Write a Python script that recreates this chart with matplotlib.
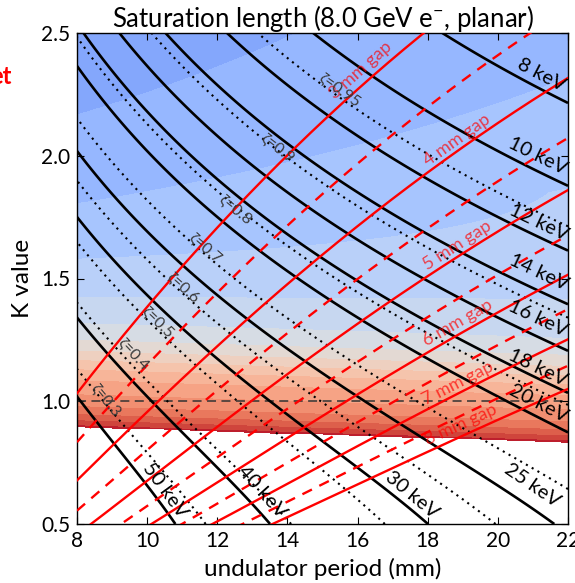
import numpy as np
import matplotlib
matplotlib.use("Agg")
import matplotlib.pyplot as plt
from matplotlib import colors as mcolors

plt.rcParams['font.family'] = ['Lato', 'DejaVu Sans']
plt.rcParams['mathtext.fontset'] = 'custom'
plt.rcParams['mathtext.rm'] = 'Lato'
plt.rcParams['mathtext.it'] = 'Lato:italic'

# ---------------- data ----------------
beam_energy_gev = 8.0
period_lim = (8, 22)
k_lim = (0.5, 2.5)

# photon energy contours (keV) and their label centres (period mm, K)
energy_levels = [8, 10, 12, 14, 16, 18, 20, 25, 30, 40, 50]
energy_label_period = [21.23, 21.15, 21.17, 21.17, 21.15, 21.15, 21.17, 20.97, 17.55, 13.28, 10.51]
energy_label_k = [2.329, 2.00, 1.730, 1.526, 1.339, 1.135, 0.993, 0.659, 0.618, 0.630, 0.638]

# zeta contours (dotted), photon energy (keV) on each, label centres
zeta_values = [0.3, 0.4, 0.5, 0.6, 0.7, 0.8, 0.9, 0.95]
zeta_energy = [46.3, 38.3, 32.2, 27.1, 22.9, 18.6, 14.55, 11.2]
zeta_label_period = [8.83, 9.60, 10.31, 11.02, 11.65, 12.51, 13.73, 15.50]
zeta_label_k = [1.005, 1.192, 1.323, 1.461, 1.624, 1.779, 2.032, 2.268]

# magnetic gap lines (mm): K of the 3 mm line, decay of K with gap
gap_values = [3, 3.5, 4, 4.5, 5, 5.5, 6, 6.5, 7, 7.5, 8]
k3_period = [8, 12, 15.07, 17.98, 22]
k3_value = [1.034, 1.697, 2.166, 2.5, 2.93]
gap_decay_ref = 0.2635      # d lnK / d gap at 18.9 mm period
gap_decay_exp = 0.58
gap_decay_curv = 0.03
gap_label_values = [3, 4, 5, 6, 7, 8]
gap_label_period = [16.10, 18.84, 18.84, 18.86, 18.86, 18.95]
gap_label_k = [2.349, 2.064, 1.636, 1.319, 1.074, 0.903]

# saturation-length map: lasing threshold and scaling
threshold_k = (0.895, 0.833)     # K at 8 mm and 22 mm where lasing stops
sat_offset, sat_scale, sat_pole_gap = 0.0826, 0.263, 0.30
sat_bump, sat_bump_at, sat_bump_width = 0.08, 0.20, 0.12
sat_period_slope = 0.005
sat_levels = np.arange(0.0, 1.0001, 0.05)

x_ticks = [8, 10, 12, 14, 16, 18, 20, 22]
y_ticks = [0.5, 1.0, 1.5, 2.0, 2.5]

# ---------------- derived fields ----------------
C_E = 0.9496 * beam_energy_gev ** 2      # keV * cm


def photon_energy(lam_mm, k):
    return C_E / (lam_mm / 10.0 * (1 + k ** 2 / 2))


def k_on_energy(lam_mm, e):
    return np.sqrt(2 * (C_E / (lam_mm / 10.0 * e) - 1))


k3_poly = np.polyfit(k3_period, k3_value, 3)


def gap_k(lam, g):
    s = gap_decay_ref * (18.9 / lam) ** gap_decay_exp
    d = g - 3
    return np.polyval(k3_poly, lam) * np.exp(-s * (d - gap_decay_curv * d ** 2))


def k_threshold(lam):
    return threshold_k[0] + (threshold_k[1] - threshold_k[0]) * (lam - 8) / 14.0


lam = np.linspace(period_lim[0], period_lim[1], 600)
kk = np.linspace(k_lim[0], k_lim[1], 600)
L, K = np.meshgrid(lam, kk)
E = photon_energy(L, K)

dk = K - k_threshold(L)
sat = sat_offset + sat_scale / (dk + sat_pole_gap) \
    + sat_bump * np.exp(-((dk - sat_bump_at) / sat_bump_width) ** 2) \
    + sat_period_slope * (L - 8) * np.clip((K - 1.25) / 0.6, 0, 1)
sat = np.ma.masked_where(dk < 0, sat)

# ---------------- figure ----------------
W, H = 575, 583
fig = plt.figure(figsize=(W / 100, H / 100), dpi=100)
ax = fig.add_axes([77 / W, 1 - 524 / H, (568 - 77) / W, (524 - 33) / H])
ax.set_xlim(*period_lim)
ax.set_ylim(*k_lim)

ax.contourf(L, K, sat, levels=sat_levels, cmap='coolwarm',
            norm=mcolors.Normalize(0, 1), zorder=0)

ax.axhline(1.0, color='#333333', lw=1.3, ls=(0, (5, 3)), alpha=0.85, zorder=2)

ax.contour(L, K, E, levels=energy_levels, colors='k', linewidths=1.9, zorder=3)
ax.contour(L, K, E, levels=sorted(zeta_energy), colors='k', linewidths=1.5,
           linestyles=[(0, (1, 2.2))], zorder=3)

for g in gap_values:
    kg = gap_k(lam, g)
    if float(g).is_integer():
        ax.plot(lam, kg, color='red', lw=1.7, zorder=4)
    else:
        ax.plot(lam, kg, color='red', lw=1.7, ls=(0, (4.5, 3.5)), zorder=4)


def screen_angle(x0, y0, x1, y1):
    p = ax.transData.transform([(x0, y0), (x1, y1)])
    return np.degrees(np.arctan2(p[1, 1] - p[0, 1], p[1, 0] - p[0, 0]))


# energy labels
for e, xl, yl in zip(energy_levels, energy_label_period, energy_label_k):
    ang = screen_angle(xl - 0.05, k_on_energy(xl - 0.05, e), xl + 0.05, k_on_energy(xl + 0.05, e))
    ax.text(xl, yl, f"{e} keV", fontsize=14.5, rotation=ang, rotation_mode='anchor',
            ha='center', va='center', color='k', zorder=6)

# zeta labels
for z, e, xl, yl in zip(zeta_values, zeta_energy, zeta_label_period, zeta_label_k):
    ang = screen_angle(xl - 0.05, k_on_energy(xl - 0.05, e), xl + 0.05, k_on_energy(xl + 0.05, e))
    ax.text(xl, yl, f"ζ={z:g}", fontsize=11.5, rotation=ang, rotation_mode='anchor',
            ha='center', va='center', color='#3a3a3a', zorder=6)

# gap labels
for g, xl, yl in zip(gap_label_values, gap_label_period, gap_label_k):
    ang = screen_angle(xl - 0.05, gap_k(xl - 0.05, g), xl + 0.05, gap_k(xl + 0.05, g))
    ax.text(xl, yl, f"{g} mm gap", fontsize=13, rotation=ang, rotation_mode='anchor',
            ha='center', va='center', color='red', alpha=0.7, zorder=5)

ax.set_xticks(x_ticks)
ax.set_xticklabels([str(t) for t in x_ticks])
ax.set_yticks(y_ticks)
ax.set_yticklabels([f"{t:.1f}" for t in y_ticks])
ax.tick_params(direction='in', top=True, right=True, length=5, labelsize=15, pad=5)
for s in ax.spines.values():
    s.set_linewidth(1.0)

ax.set_title(r"Saturation length (8.0 GeV e$^{-}$, planar)", fontsize=18.5, pad=4)
ax.set_xlabel("undulator period (mm)", fontsize=17.5, labelpad=5)
ax.set_ylabel("K value", fontsize=17.5, labelpad=6)

fig.text(12 / W, 1 - 77 / H, "et", ha='right', va='center', color='red',
         fontweight='bold', fontsize=17)

fig.savefig("out.png", dpi=100)
